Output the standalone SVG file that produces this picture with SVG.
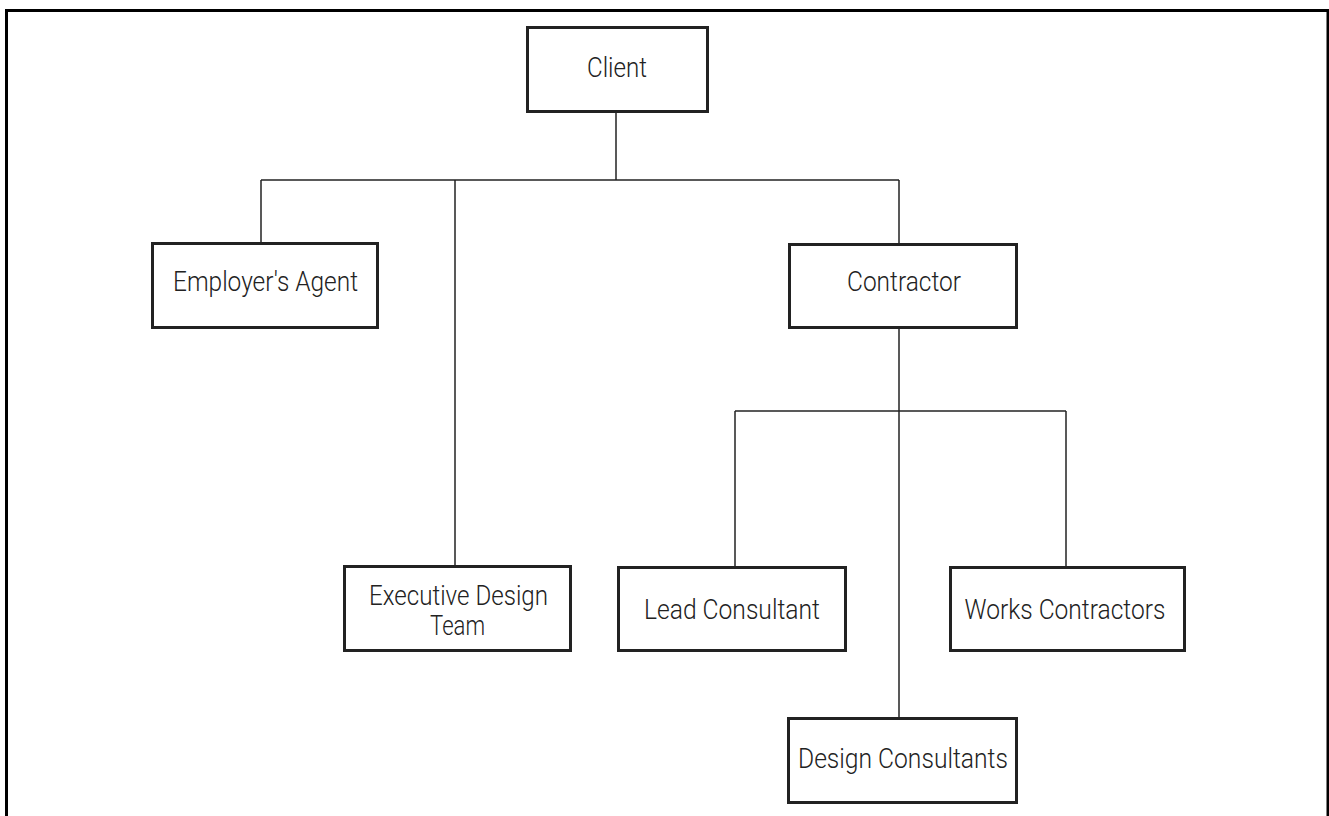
<svg xmlns="http://www.w3.org/2000/svg" width="1329" height="816" viewBox="0 0 1329 816">
  <style>
    .frame { fill: none; stroke: #000; stroke-width: 3; }
    .box { fill: #fff; stroke: #222; stroke-width: 3; }
    .wire { fill: none; stroke: #222; stroke-width: 1.5; }
    .label { font-family: Roboto, "Liberation Sans", sans-serif; font-size: 27px; font-weight: 300; fill: #222; text-anchor: middle; }
  </style>
  <rect width="1329" height="816" fill="#fff"/>
  <rect class="frame" x="6.5" y="10.5" width="1321.5" height="900"/>

  <g id="connectors">
    <path class="wire" d="M616 112 V180"/>
    <path class="wire" d="M261 180 H899"/>
    <path class="wire" d="M261 180 V242"/>
    <path class="wire" d="M455 180 V565"/>
    <path class="wire" d="M899 180 V243"/>
    <path class="wire" d="M899 329 V717"/>
    <path class="wire" d="M735 411 H1066"/>
    <path class="wire" d="M735 411 V566"/>
    <path class="wire" d="M1066 411 V566"/>
  </g>

  <g id="client">
    <rect class="box" x="527.5" y="27.5" width="180" height="84"/>
    <text class="label" x="617" y="77" textLength="60" lengthAdjust="spacingAndGlyphs">Client</text>
  </g>

  <g id="employers-agent">
    <rect class="box" x="152.5" y="243.5" width="225" height="84"/>
    <text class="label" x="265.5" y="291" textLength="185" lengthAdjust="spacingAndGlyphs">Employer's Agent</text>
  </g>

  <g id="contractor">
    <rect class="box" x="789.5" y="244.5" width="227" height="83"/>
    <text class="label" x="904" y="291" textLength="114" lengthAdjust="spacingAndGlyphs">Contractor</text>
  </g>

  <g id="executive-design-team">
    <rect class="box" x="344.5" y="566.5" width="226" height="84"/>
    <text class="label" x="458.5" y="605" textLength="179" lengthAdjust="spacingAndGlyphs">Executive Design</text>
    <text class="label" x="457.5" y="635" textLength="55" lengthAdjust="spacingAndGlyphs">Team</text>
  </g>

  <g id="lead-consultant">
    <rect class="box" x="618.5" y="567.5" width="227" height="83"/>
    <text class="label" x="732" y="619" textLength="176" lengthAdjust="spacingAndGlyphs">Lead Consultant</text>
  </g>

  <g id="works-contractors">
    <rect class="box" x="950.5" y="567.5" width="234" height="83"/>
    <text class="label" x="1065" y="619" textLength="201" lengthAdjust="spacingAndGlyphs">Works Contractors</text>
  </g>

  <g id="design-consultants">
    <rect class="box" x="788.5" y="718.5" width="228" height="84"/>
    <text class="label" x="903" y="768" textLength="210" lengthAdjust="spacingAndGlyphs">Design Consultants</text>
  </g>
</svg>
